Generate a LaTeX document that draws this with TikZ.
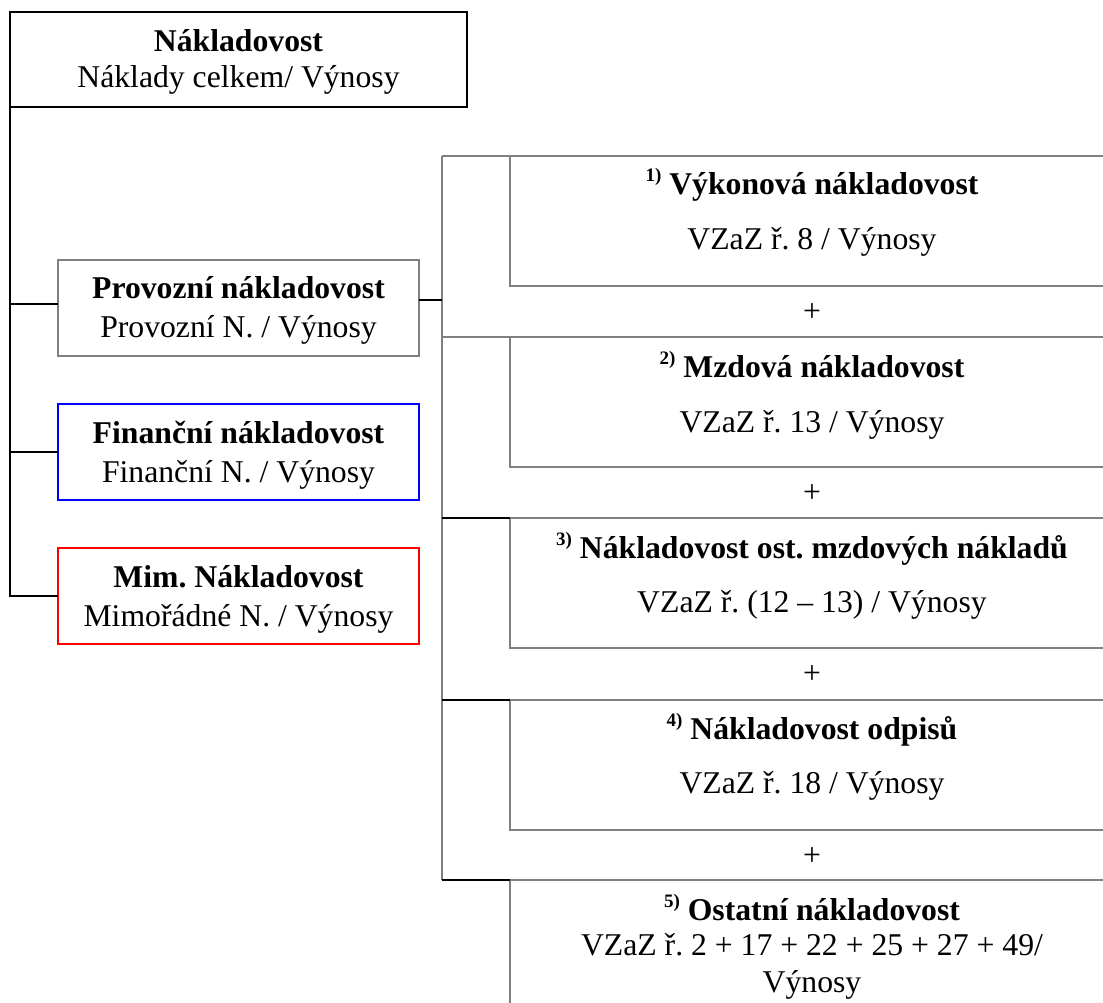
\documentclass[tikz,border=0pt]{standalone}
\usepackage{fontspec}
\setmainfont{Liberation Serif}
\usetikzlibrary{calc}
\definecolor{boxgray}{RGB}{128,128,128}
\definecolor{pureblue}{RGB}{0,0,255}
\definecolor{purered}{RGB}{255,0,0}
\newcommand{\supn}[1]{\raisebox{13pt}{\fontsize{19}{19}\selectfont\bfseries #1)}}
\frenchspacing
\begin{document}
\frenchspacing
\begin{tikzpicture}[x=1pt,y=-1pt,
  every node/.style={inner sep=0pt, outer sep=0pt},
  frame/.style={draw, rectangle, line width=1.8pt, anchor=north west},
  lbox/.style={frame, minimum width=361pt, minimum height=96pt},
  rbox/.style={frame, draw=boxgray, minimum width=604pt, minimum height=130pt},
  txt/.style={anchor=base, font=\fontsize{31.7}{36.5}\selectfont\frenchspacing},
  ttl/.style={anchor=base, font=\fontsize{31.7}{36.5}\selectfont\bfseries\frenchspacing},
  conn/.style={line width=1.8pt, draw=black},
  gconn/.style={line width=1.8pt, draw=boxgray},
]
\useasboundingbox[fill=white] (0,0) rectangle (1103,1003);
\clip (0,0) rectangle (1103,1003);

% top box
\node[frame, minimum width=457pt, minimum height=95pt] (top) at (10,12) {};
\node[ttl] (topt) at (238.5,52) {Nákladovost};
\node[txt] (tops) at (238.5,88) {Náklady celkem/ Výnosy};

% left boxes
\node[lbox, draw=boxgray] (prov) at (58,260) {};
\node[ttl] (provt) at (238.5,298) {Provozní nákladovost};
\node[txt] (provs) at (238.5,337) {Provozní N. / Výnosy};

\node[lbox, draw=pureblue] (fin) at (58,404) {};
\node[ttl] (fint) at (238.5,443) {Finanční nákladovost};
\node[txt] (fins) at (238.5,482) {Finanční N. / Výnosy};

\node[lbox, draw=purered] (mim) at (58,548) {};
\node[ttl] (mimt) at (238.5,587) {Mim. Nákladovost};
\node[txt] (mims) at (238.5,626) {Mimořádné N. / Výnosy};

% left trunk
\coordinate (ltop) at (top.south west);
\coordinate (pl) at ([yshift=4pt]prov.west);
\draw[conn] (ltop) |- (mim.west);
\draw[conn] (pl -| ltop) -- (pl);
\draw[conn] (fin.west -| ltop) -- (fin.west);

% right boxes
\node[rbox] (b1) at (510,156) {};
\node[rbox] (b2) at (510,337) {};
\node[rbox] (b3) at (510,518) {};
\node[rbox] (b4) at (510,700) {};
\node[rbox, minimum height=140pt] (b5) at (510,880) {};

\node[ttl] (b1t) at (812,195) {\supn{1} Výkonová nákladovost};
\node[txt] (b1s) at (812,250) {VZaZ ř. 8 / Výnosy};
\node[txt] (p1) at (812,321) {+};

\node[ttl] (b2t) at (812,377) {\supn{2} Mzdová nákladovost};
\node[txt] (b2s) at (812,432) {VZaZ ř. 13 / Výnosy};
\node[txt] (p2) at (812,502) {+};

\node[ttl] (b3t) at (812,558) {\supn{3} Nákladovost ost. mzdových nákladů};
\node[txt] (b3s) at (812,612) {VZaZ ř. (12 – 13) / Výnosy};
\node[txt] (p3) at (812,683) {+};

\node[ttl] (b4t) at (812,739) {\supn{4} Nákladovost odpisů};
\node[txt] (b4s) at (812,793) {VZaZ ř. 18 / Výnosy};
\node[txt] (p4) at (812,865) {+};

\node[ttl] (b5t) at (812,920) {\supn{5} Ostatní nákladovost};
\node[txt] (b5s) at (812,955) {VZaZ ř. 2 + 17 + 22 + 25 + 27 + 49/};
\node[txt] (b5u) at (812,992) {Výnosy};

% right trunk
\coordinate (rtop) at (442,156);
\coordinate (rbot) at (442,880);
\draw[gconn] (rtop) -- (rbot);
\draw[gconn] (rtop) -- (b1.north west);
\draw[gconn] (b2.north west -| rtop) -- (b2.north west);
\draw[conn] (b3.north west -| rtop) -- (b3.north west);
\draw[conn] (b4.north west -| rtop) -- (b4.north west);
\draw[conn] (rbot) -- (b5.north west);
\coordinate (pc) at ([yshift=8pt]prov.east);
\draw[conn] (pc) -- (pc -| rtop);
\end{tikzpicture}
\end{document}
